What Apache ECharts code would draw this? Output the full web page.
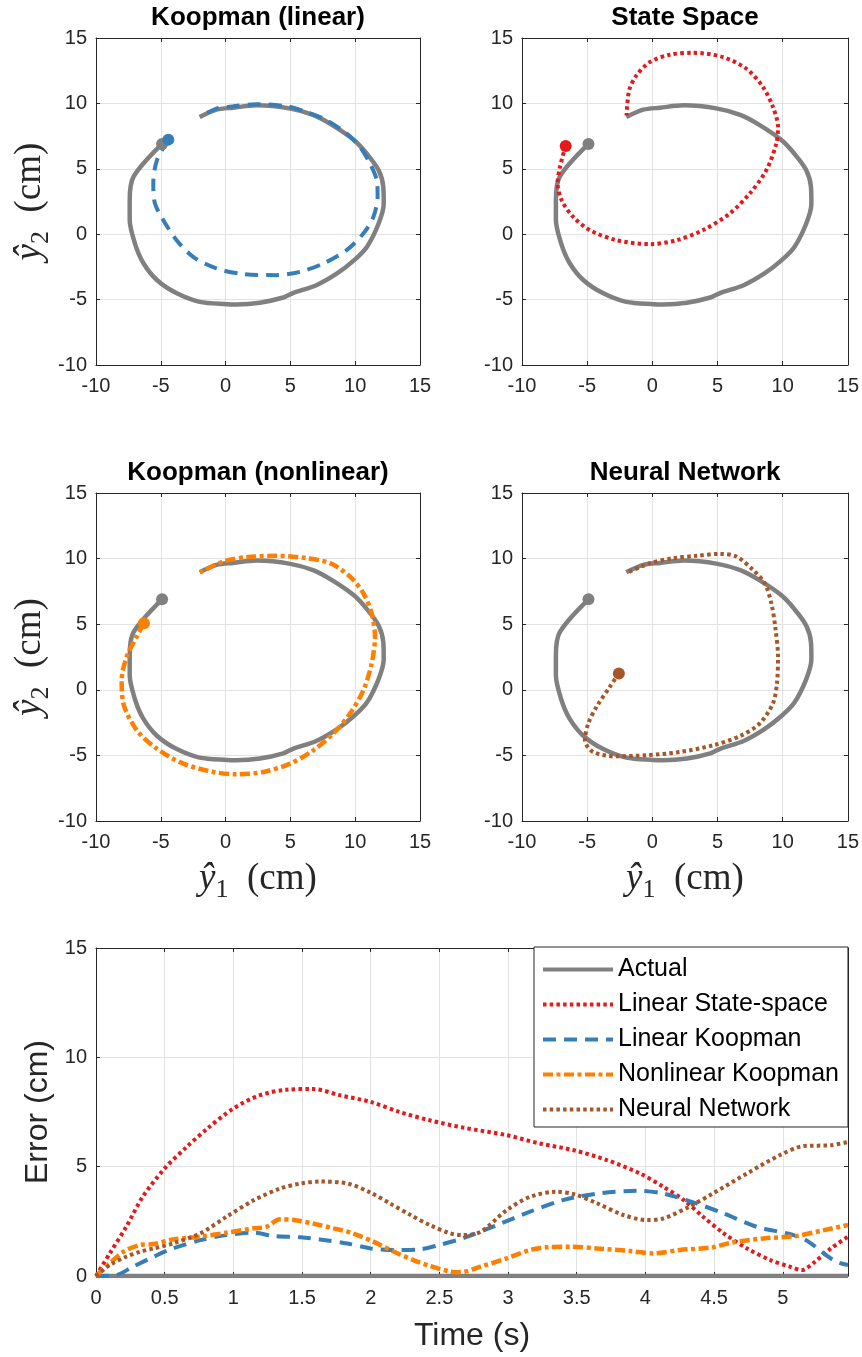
<!DOCTYPE html>
<html>
<head>
<meta charset="utf-8">
<title>Trajectory comparison</title>
<script src="https://cdn.jsdelivr.net/npm/echarts@6/dist/echarts.min.js"></script>
<style>
    html, body { margin: 0; padding: 0; background: #fff; }
    #main { width: 862px; height: 1357px; }
</style>
</head>
<body>
<div id="main"></div>
<script>
// 轨迹数据 [y1, y2] (cm)
var actualPath = [[-4.9, 6.9], [-7.1, 4.4], [-7.4, 2.6], [-7.4, 1.1], [-7.0, -0.7], [-6.35, -2.2], [-5.3, -3.5],
    [-3.8, -4.5], [-2.0, -5.17], [0.1, -5.35], [0.85, -5.37], [2.65, -5.24], [4.45, -4.84], [5.2, -4.5],
    [7.0, -3.9], [8.6, -3.0], [9.9, -2.0], [10.9, -0.97], [11.8, 0.8], [12.2, 2.3], [12.17, 3.6],
    [11.8, 4.9], [10.9, 6.15], [9.9, 7.2], [8.3, 8.3], [6.8, 9.1], [5.0, 9.6], [2.4, 9.85], [0.6, 9.67],
    [-0.7, 9.52], [-2.0, 8.96]];
var linKoopPath = [[-4.42, 7.23], [-5.3, 5.65], [-5.58, 3.87], [-5.45, 2.34], [-4.8, 1.07], [-3.78, -0.46],
    [-2.5, -1.73], [-0.7, -2.62], [1.37, -3.05], [3.94, -3.13], [5.74, -2.88], [7.54, -2.24], [9.34, -1.22],
    [10.63, 0.05], [11.4, 1.32], [11.73, 2.85], [11.66, 4.12], [11.14, 5.4], [10.37, 6.67], [9.34, 7.69],
    [7.8, 8.71], [6.25, 9.34], [4.7, 9.78], [2.4, 9.93], [0.6, 9.78], [-0.7, 9.6], [-2.0, 8.96]];
var statePath = [[-6.65, 6.75], [-7.09, 5.14], [-7.27, 3.87], [-6.96, 2.6], [-6.07, 1.32], [-4.79, 0.31],
    [-2.75, -0.46], [-0.19, -0.76], [1.85, -0.46], [3.89, 0.31], [5.93, 1.58], [7.47, 3.11], [8.74, 4.89],
    [9.51, 6.92], [9.64, 8.2], [9.25, 9.72], [8.49, 11.25], [7.21, 12.65], [5.42, 13.54], [3.13, 13.87],
    [1.34, 13.72], [-0.19, 13.16], [-1.22, 12.14], [-1.78, 11.0], [-1.98, 9.09]];
var nonlinKoopPath = [[-6.3, 5.07], [-6.86, 4.05], [-7.63, 2.52], [-8.02, 0.74], [-7.89, -1.04], [-6.86, -3.08],
    [-5.32, -4.48], [-3.26, -5.63], [-0.95, -6.26], [0.85, -6.44], [2.91, -6.26], [4.97, -5.63], [6.77, -4.61],
    [8.31, -3.34], [9.6, -1.81], [10.63, -0.03], [11.27, 2.01], [11.53, 4.05], [11.27, 5.83], [10.63, 7.36],
    [9.6, 8.63], [8.06, 9.65], [6.25, 10.03], [3.94, 10.21], [1.63, 10.11], [-0.18, 9.78], [-1.98, 8.94]];
var neuralPath = [[-2.57, 1.25], [-3.26, 0.23], [-4.28, -1.3], [-4.92, -2.57], [-5.17, -3.84], [-4.54, -4.74],
    [-2.75, -5.07], [-0.45, -4.99], [2.1, -4.74], [4.66, -4.23], [6.7, -3.54], [8.23, -2.57], [9.25, -1.04],
    [9.56, 0.48], [9.64, 2.52], [9.46, 4.56], [9.13, 6.59], [8.62, 8.12], [7.72, 9.14], [6.45, 10.16],
    [5.17, 10.36], [3.38, 10.21], [1.59, 10.03], [-0.19, 9.65], [-1.85, 8.96]];

// 误差数据 [t (s), error (cm)]
var actualErr = [[0, 0], [5.475, 0]];
var stateErr = [[0, 0], [0.1, 1.03], [0.22, 2.25], [0.34, 3.62], [0.5, 4.92], [0.66, 5.9], [0.81, 6.74],
    [1.0, 7.66], [1.19, 8.26], [1.39, 8.52], [1.58, 8.55], [1.78, 8.26], [2.0, 7.96], [2.21, 7.5],
    [2.43, 7.12], [2.67, 6.79], [2.99, 6.44], [3.23, 6.06], [3.48, 5.75], [3.72, 5.3], [3.96, 4.69],
    [4.13, 4.08], [4.28, 3.47], [4.42, 2.71], [4.57, 1.95], [4.74, 1.26], [4.91, 0.73], [5.05, 0.43],
    [5.14, 0.27], [5.22, 0.58], [5.35, 1.26], [5.475, 1.8]];
var linKoopErr = [[0, 0], [0.15, 0.05], [0.27, 0.43], [0.42, 0.88], [0.56, 1.26], [0.76, 1.64], [0.95, 1.87],
    [1.15, 1.98], [1.29, 1.83], [1.49, 1.77], [1.63, 1.67], [1.83, 1.49], [2.0, 1.26], [2.17, 1.19],
    [2.36, 1.22], [2.5, 1.42], [2.67, 1.72], [2.92, 2.33], [3.16, 2.94], [3.4, 3.47], [3.65, 3.77],
    [3.94, 3.9], [4.13, 3.77], [4.37, 3.32], [4.57, 2.86], [4.81, 2.25], [5.05, 1.92], [5.17, 1.64],
    [5.3, 1.03], [5.39, 0.65], [5.475, 0.5]];
var nonlinKoopErr = [[0, 0], [0.1, 0.58], [0.2, 1.11], [0.32, 1.42], [0.42, 1.46], [0.56, 1.67], [0.76, 1.8],
    [0.95, 1.98], [1.15, 2.18], [1.24, 2.25], [1.34, 2.59], [1.44, 2.56], [1.58, 2.4], [1.73, 2.18],
    [1.87, 1.95], [2.02, 1.57], [2.17, 1.11], [2.31, 0.73], [2.43, 0.46], [2.58, 0.2], [2.65, 0.17],
    [2.8, 0.43], [2.99, 0.81], [3.16, 1.19], [3.28, 1.31], [3.45, 1.34], [3.65, 1.26], [3.89, 1.14],
    [4.06, 1.03], [4.25, 1.19], [4.49, 1.31], [4.62, 1.52], [4.86, 1.72], [5.1, 1.83], [5.3, 2.1], [5.475, 2.33]];
var neuralErr = [[0, 0], [0.1, 0.5], [0.22, 0.88], [0.32, 1.11], [0.42, 1.26], [0.56, 1.49], [0.76, 1.95],
    [0.95, 2.71], [1.15, 3.47], [1.34, 4.0], [1.49, 4.23], [1.63, 4.32], [1.83, 4.23], [2.0, 3.81],
    [2.14, 3.32], [2.29, 2.79], [2.43, 2.33], [2.58, 1.95], [2.67, 1.87], [2.8, 2.02], [2.99, 3.01],
    [3.16, 3.62], [3.35, 3.85], [3.48, 3.74], [3.65, 3.32], [3.84, 2.79], [4.01, 2.56], [4.13, 2.63],
    [4.32, 3.17], [4.49, 3.77], [4.74, 4.69], [4.98, 5.53], [5.15, 5.94], [5.35, 5.98], [5.475, 6.13]];

// 坐标轴范围
var pathRange = [-10, 15];
var errRange = [0, 15];
var timeRange = [0, 5.475];
var subTitles = ['Koopman (linear)', 'State Space', 'Koopman (nonlinear)', 'Neural Network'];
var legendNames = ['Actual', 'Linear State-space', 'Linear Koopman', 'Nonlinear Koopman', 'Neural Network'];

var axisColor = '#262626';
var gridColor = '#e3e3e3';
var sansFont = '"Liberation Sans", Arial, Helvetica, sans-serif';
var serifFont = '"Liberation Serif", "DejaVu Serif", serif';

var gray = '#808080', red = '#e41a1c', blue = '#377eb8', orange = '#ff7f00', brown = '#a65628';
var dotted = [3.5, 3.2], dashed = [13, 8], dashDot = [10, 3.5, 4, 3.5];

var grids = [
    {left: 96, top: 38, width: 324, height: 327},
    {left: 522, top: 38, width: 326, height: 327},
    {left: 96, top: 493, width: 324, height: 328},
    {left: 522, top: 493, width: 326, height: 328},
    {left: 96, top: 948, width: 752, height: 328}
];

// LaTeX 风格的坐标轴名称
var texStyle = {
    color: axisColor,
    fontFamily: serifFont,
    rich: {
        v: {fontSize: 37, fontStyle: 'italic', lineHeight: 48, fontFamily: serifFont, color: axisColor},
        s: {fontSize: 26, lineHeight: 26, verticalAlign: 'bottom', fontFamily: serifFont, color: axisColor},
        u: {fontSize: 37, lineHeight: 48, fontFamily: serifFont, color: axisColor}
    }
};
function texName(sub) {
    return '{v|ŷ}{s|' + sub + '}{u|  (cm)}';
}

function makeAxis(gridIndex, range, interval, position, isMain) {
    return {
        type: 'value',
        gridIndex: gridIndex,
        position: position,
        min: range[0],
        max: range[1],
        interval: interval,
        axisLine: {show: true, onZero: false, lineStyle: {color: axisColor, width: 1}},
        axisTick: {show: true, inside: true, length: 4, lineStyle: {color: axisColor}},
        axisLabel: {
            show: isMain,
            color: axisColor,
            fontSize: 20,
            fontFamily: sansFont,
            margin: (position === 'bottom') ? 11 : 9
        },
        splitLine: {show: isMain, lineStyle: {color: gridColor, width: 1}}
    };
}

var xAxes = [], yAxes = [];
for (var g = 0; g < 5; g++) {
    var xr = g < 4 ? pathRange : timeRange;
    var yr = g < 4 ? pathRange : errRange;
    var mx = makeAxis(g, xr, g < 4 ? 5 : 0.5, 'bottom', true);
    var my = makeAxis(g, yr, 5, 'left', true);
    if (g === 2 || g === 3) {
        mx.name = texName('1');
        mx.nameLocation = 'middle';
        mx.nameGap = 34;
        mx.nameTextStyle = texStyle;
    }
    if (g === 0 || g === 2) {
        my.name = texName('2');
        my.nameLocation = 'middle';
        my.nameGap = 40;
        my.nameTextStyle = texStyle;
    }
    if (g === 4) {
        mx.axisLabel.margin = 12;
        mx.axisLabel.showMaxLabel = false;
        mx.name = 'Time (s)';
        mx.nameLocation = 'middle';
        mx.nameGap = 44;
        mx.nameTextStyle = {fontSize: 32, color: axisColor, fontFamily: sansFont};
        my.name = 'Error (cm)';
        my.nameLocation = 'middle';
        my.nameGap = 40;
        my.nameTextStyle = {fontSize: 32, color: axisColor, fontFamily: sansFont};
    }
    xAxes.push(mx, makeAxis(g, xr, g < 4 ? 5 : 0.5, 'top', false));
    yAxes.push(my, makeAxis(g, yr, 5, 'right', false));
}

function lineSeries(name, g, data, color, dash, width) {
    return {
        name: name,
        type: 'line',
        xAxisIndex: g * 2,
        yAxisIndex: g * 2,
        data: data,
        symbol: 'none',
        smooth: 0.3,
        lineStyle: {color: color, width: width || 4, type: dash || 'solid', cap: 'butt'},
        itemStyle: {color: color},
        emphasis: {disabled: true}
    };
}
function startDot(name, g, path, color) {
    return {
        name: name,
        type: 'scatter',
        xAxisIndex: g * 2,
        yAxisIndex: g * 2,
        data: [path[0]],
        symbolSize: 12,
        itemStyle: {color: color, opacity: 1},
        z: 3
    };
}

// 四个轨迹子图
var models = [
    {path: linKoopPath, color: blue, dash: dashed, width: 4},
    {path: statePath, color: red, dash: dotted, width: 4},
    {path: nonlinKoopPath, color: orange, dash: dashDot, width: 4.5},
    {path: neuralPath, color: brown, dash: dotted, width: 4}
];
var series = [];
for (var i = 0; i < 4; i++) {
    series.push(lineSeries('actual-' + i, i, actualPath, gray, 'solid', 4.5));
    series.push(lineSeries('model-' + i, i, models[i].path, models[i].color, models[i].dash, models[i].width));
    series.push(startDot('actual-start-' + i, i, actualPath, gray));
    series.push(startDot('model-start-' + i, i, models[i].path, models[i].color));
}
// 误差曲线
series.push(lineSeries(legendNames[0], 4, actualErr, gray, 'solid', 4.5));
series.push(lineSeries(legendNames[1], 4, stateErr, red, dotted, 4));
series.push(lineSeries(legendNames[2], 4, linKoopErr, blue, dashed, 4));
series.push(lineSeries(legendNames[3], 4, nonlinKoopErr, orange, dashDot, 4.5));
series.push(lineSeries(legendNames[4], 4, neuralErr, brown, dotted, 4));

var titleCenters = [[258, 5], [685, 5], [258, 460], [685, 460]];
var titles = subTitles.map(function (t, k) {
    return {
        text: t,
        left: titleCenters[k][0],
        top: titleCenters[k][1],
        textAlign: 'center',
        padding: 0,
        textStyle: {fontSize: 26, fontWeight: 'bold', color: '#000', fontFamily: sansFont}
    };
});

var chart = echarts.init(document.getElementById('main'), null, {renderer: 'canvas'});
chart.setOption({
    animation: false,
    backgroundColor: '#fff',
    textStyle: {fontFamily: sansFont},
    title: titles,
    grid: grids,
    xAxis: xAxes,
    yAxis: yAxes,
    legend: {
        data: legendNames,
        orient: 'vertical',
        left: 534,
        top: 947,
        itemWidth: 70,
        itemHeight: 14,
        itemGap: 10,
        padding: [10, 9, 5, 7],
        borderColor: axisColor,
        borderWidth: 1,
        backgroundColor: '#fff',
        selectedMode: false,
        itemStyle: {opacity: 0},
        lineStyle: {width: 4},
        textStyle: {fontSize: 25, color: '#000', fontFamily: sansFont}
    },
    series: series
});
</script>
</body>
</html>
